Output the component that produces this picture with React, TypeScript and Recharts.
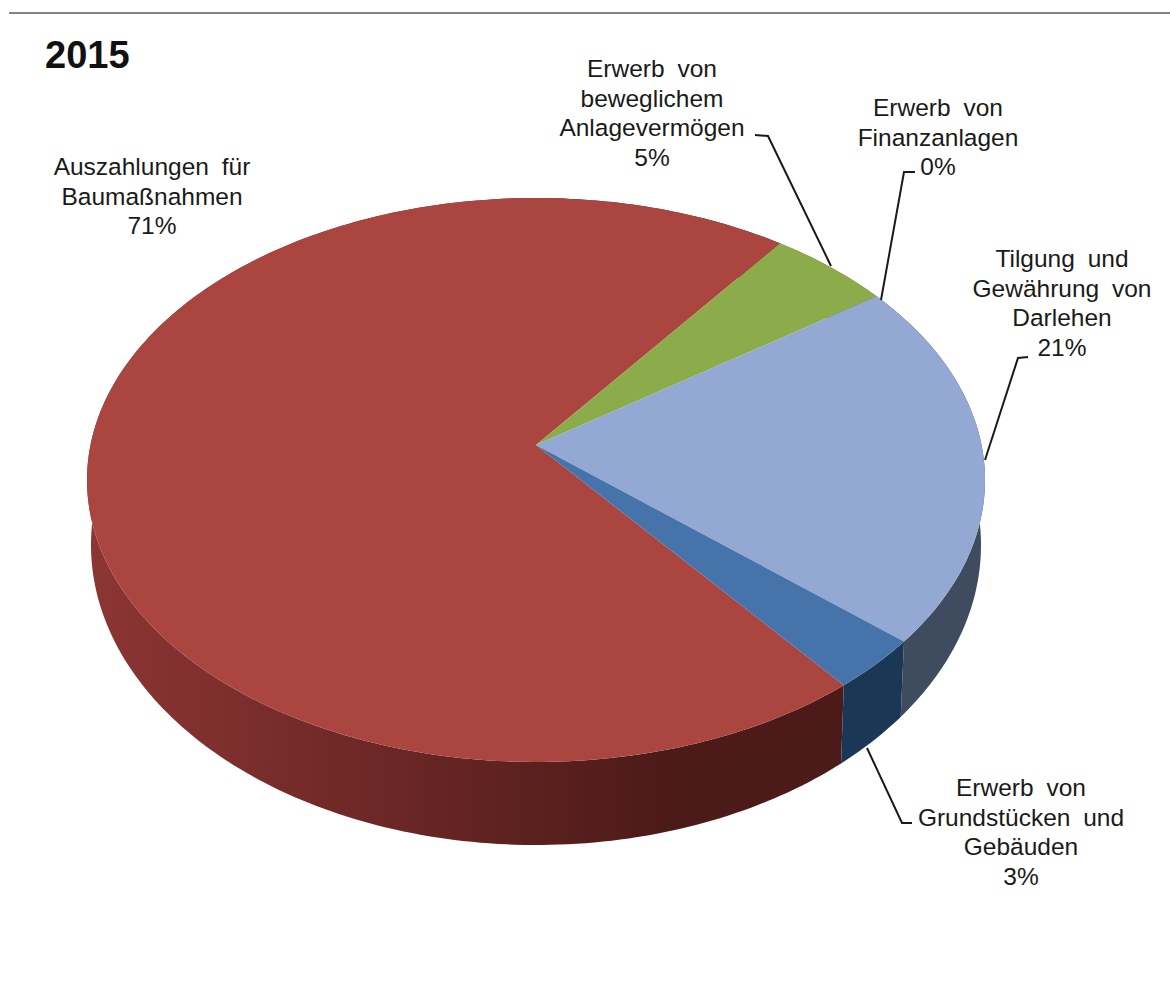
import { PieChart, Pie } from "recharts";

const categories = [
  ["Auszahlungen für", "Baumaßnahmen"],
  ["Erwerb von", "beweglichem", "Anlagevermögen"],
  ["Erwerb von", "Finanzanlagen"],
  ["Tilgung und", "Gewährung von", "Darlehen"],
  ["Erwerb von", "Grundstücken und", "Gebäuden"],
];
const shares = [71, 5, 0, 21, 3];

const topColors = ["#ab4540", "#8cab4a", "#8aa0c8", "#93a8d2", "#4673aa"];
const wallColorsLeft = ["#8c3534", "#5f7a30", "#5f7a30", "#3d495d", "#1c3857"];
const wallColorsRight = ["#4c1a18", "#5f7a30", "#5f7a30", "#3f4b5e", "#1b3756"];

const rows = categories.map((lines, i) => ({
  name: lines.join(" "),
  value: shares[i],
  fill: topColors[i],
  wallLeft: wallColorsLeft[i],
  wallRight: wallColorsRight[i],
}));

// Label placement: centre x, first line y, and the leader line running to the pie
const labelLayout = [
  { x: 152, y: 166, leader: null },
  { x: 652, y: 68, leader: "M755,135 L768,136 L831,266" },
  { x: 938, y: 107, leader: "M915,172 L904,172 L881,300" },
  { x: 1062, y: 258, leader: "M1028,357 L1018,358 L985,460" },
  { x: 1021, y: 787, leader: "M867,748 L902,823 L912,823" },
];

const CX = 536;
const CY = 445;
const RADIUS = 449;
const START_ANGLE = -51.4;

// The pie is tilted with perspective, so the apex sits above the ellipse centre
const SQUASH = 0.628;
const APEX_SHIFT = 35;
const WALL = { rx: 445, ry: 300, drop: 100 };

const rimPoint = (
  angle: number,
  cx: number,
  midY: number,
  rx: number,
  ry: number,
  shift: number,
) => {
  const rad = (angle * Math.PI) / 180;
  const u = Math.cos(rad);
  const v = -Math.sin(rad);
  const den = 1 + shift * v;
  return [
    cx + ((u * Math.sqrt(1 - shift * shift)) / den) * rx,
    midY + ((v + shift) / den) * ry,
  ];
};

const arcAngles = (start: number, end: number, step: number) => {
  const count = Math.max(1, Math.ceil(Math.abs(end - start) / step));
  return Array.from({ length: count + 1 }, (_, i) => start + ((end - start) * i) / count);
};

function TopFace(props: any) {
  const { cx, cy, outerRadius, startAngle, endAngle, fill } = props;
  const ry = outerRadius * SQUASH;
  const shift = -APEX_SHIFT / ry;
  const rim = arcAngles(startAngle, endAngle, 1).map((a) =>
    rimPoint(a, cx, cy + APEX_SHIFT, outerRadius, ry, shift),
  );
  const d = `M${cx},${cy} ` + rim.map((p) => `L${p[0]},${p[1]}`).join(" ") + " Z";
  return <path d={d} fill={fill} stroke="none" />;
}

// Side wall between the upper and lower rim, darkening towards the right
function SideWall(props: any) {
  const { cx, cy, outerRadius, startAngle, endAngle, wallLeft, wallRight, index } = props;
  const ry = outerRadius * SQUASH;
  const shift = -APEX_SHIFT / ry;
  const angles = arcAngles(startAngle, endAngle, 1);
  const upper = angles.map((a) => rimPoint(a, cx, cy + APEX_SHIFT, outerRadius, ry, shift));
  const lower = angles
    .map((a) => rimPoint(a, cx, cy + WALL.drop, WALL.rx, WALL.ry, shift))
    .reverse();
  const id = `wallShade${index}`;
  return (
    <g>
      <defs>
        <linearGradient
          id={id}
          gradientUnits="userSpaceOnUse"
          x1={cx - outerRadius}
          y1={0}
          x2={cx + outerRadius * 0.3}
          y2={0}
        >
          <stop offset="0%" stopColor={wallLeft} />
          <stop offset="100%" stopColor={wallRight} />
        </linearGradient>
      </defs>
      <polygon
        points={[...upper, ...lower].map((p) => p.join(",")).join(" ")}
        fill={`url(#${id})`}
        stroke="none"
      />
    </g>
  );
}

function SliceLabel(props: any) {
  const { index, value } = props;
  const spot = labelLayout[index];
  const lines = [...categories[index], `${value}%`];
  return (
    <g>
      {spot.leader && <path d={spot.leader} fill="none" stroke="#1a1a1a" strokeWidth={2} />}
      <text
        textAnchor="middle"
        fill="#1a1a1a"
        fontFamily="'Liberation Sans', Arial, sans-serif"
        fontSize={24.5}
        wordSpacing={6}
      >
        {lines.map((line, i) => (
          <tspan key={i} x={spot.x} y={spot.y + i * 29.6 + 9}>
            {line}
          </tspan>
        ))}
      </text>
    </g>
  );
}

export default function App() {
  return (
    <div style={{ position: "absolute", left: 0, top: 0, width: 1170, height: 991, background: "#fff" }}>
      <div style={{ position: "absolute", left: 9, right: 0, top: 12, height: 2, background: "#858585" }} />
      <div
        style={{
          position: "absolute",
          left: 45,
          top: 34,
          fontFamily: "'Liberation Sans', Arial, sans-serif",
          fontWeight: 700,
          fontSize: 38,
          lineHeight: "42px",
          color: "#111",
        }}
      >
        2015
      </div>
      <PieChart width={1170} height={991} margin={{ top: 0, right: 0, bottom: 0, left: 0 }}>
        <Pie
          data={rows}
          dataKey="value"
          cx={CX}
          cy={CY}
          outerRadius={RADIUS}
          startAngle={START_ANGLE}
          endAngle={START_ANGLE - 360}
          shape={SideWall}
          legendType="none"
          isAnimationActive={false}
        />
        <Pie
          data={rows}
          dataKey="value"
          cx={CX}
          cy={CY}
          outerRadius={RADIUS}
          startAngle={START_ANGLE}
          endAngle={START_ANGLE - 360}
          shape={TopFace}
          label={SliceLabel}
          labelLine={false}
          legendType="none"
          isAnimationActive={false}
        />
      </PieChart>
    </div>
  );
}
